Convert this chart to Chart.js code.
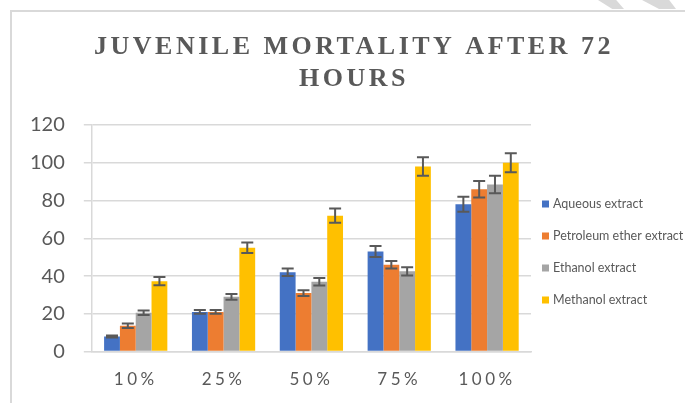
<!DOCTYPE html>
<html>
<head>
<meta charset="utf-8">
<script src="https://cdn.jsdelivr.net/npm/chart.js@4.4.1/dist/chart.umd.min.js"></script>
<style>
  html, body { margin: 0; padding: 0; background: #fff; overflow: hidden; }
  #wrap { position: relative; width: 685px; height: 403px; }
  #frame {
    position: absolute; left: 10px; top: 10px; width: 720px; height: 440px;
    border-left: 2px solid #d9d9d9; border-top: 2px solid #d9d9d9;
  }
  .stripe { position: absolute; top: 0; height: 9px; background: #d9d9d9; }
  #s1 { left: 598px; width: 26px; clip-path: polygon(0 0, 70% 0, 100% 100%, 55% 100%); }
  #s2 { left: 642px; width: 34px; clip-path: polygon(0 0, 80% 0, 100% 100%, 50% 100%); }
  canvas { position: absolute; left: 0; top: 0; }
</style>
</head>
<body>
<div id="wrap">
  <div id="frame"></div>
  <div class="stripe" id="s1"></div>
  <div class="stripe" id="s2"></div>
  <canvas id="chart" width="685" height="403"></canvas>
</div>
<script>
'use strict';

const titleLines = ['JUVENILE MORTALITY AFTER 72', 'HOURS'];
const categories = ['10%', '25%', '50%', '75%', '100%'];
const seriesNames = ['Aqueous extract', 'Petroleum ether extract', 'Ethanol extract', 'Methanol extract'];
const seriesColors = ['#4472c4', '#ed7d31', '#a5a5a5', '#ffc000'];

const aqueous = [8, 21, 42, 53, 78];
const petroleum = [13.7, 21, 31, 46, 86];
const ethanol = [20.6, 29, 37, 42.5, 88.5];
const methanol = [37.3, 55, 72, 98, 100];

const aqueousErr = [0.5, 1, 2, 2.9, 4];
const petroleumErr = [1.2, 1, 1.5, 2, 4.4];
const ethanolErr = [1.2, 1.5, 2, 2.2, 4.6];
const methanolErr = [2.2, 2.8, 3.8, 4.9, 5];

const yTicks = [0, 20, 40, 60, 80, 100, 120];

const seriesValues = [aqueous, petroleum, ethanol, methanol];
const seriesErrors = [aqueousErr, petroleumErr, ethanolErr, methanolErr];

const textColor = '#595959';
const gridColor = '#d9d9d9';

// Error bars on top of each bar, positioned from the y scale
const errorBars = {
  id: 'errorBars',
  afterDatasetsDraw(chart) {
    const { ctx } = chart;
    const y = chart.scales.y;
    ctx.save();
    ctx.strokeStyle = textColor;
    ctx.lineWidth = 2;
    chart.data.datasets.forEach((ds, i) => {
      chart.getDatasetMeta(i).data.forEach((bar, j) => {
        const v = ds.data[j];
        const e = seriesErrors[i][j];
        const top = y.getPixelForValue(v + e);
        const bot = y.getPixelForValue(v - e);
        const half = 6;
        ctx.beginPath();
        ctx.moveTo(bar.x, top);
        ctx.lineTo(bar.x, bot);
        ctx.moveTo(bar.x - half, top);
        ctx.lineTo(bar.x + half, top);
        ctx.moveTo(bar.x - half, bot);
        ctx.lineTo(bar.x + half, bot);
        ctx.stroke();
      });
    });
    ctx.restore();
    // x tick labels are drawn after this (ticks.z = 1) with spaced letters
    ctx.letterSpacing = '3.5px';
  },
  afterDraw(chart) {
    const { ctx, chartArea } = chart;
    ctx.letterSpacing = '0px';
    ctx.save();

    // title
    ctx.fillStyle = textColor;
    ctx.textAlign = 'center';
    ctx.textBaseline = 'alphabetic';
    ctx.font = 'bold 26px "Liberation Serif", serif';
    ctx.letterSpacing = '3.5px';
    ctx.fillText(titleLines[0], 354, 54);
    ctx.fillText(titleLines[1], 354, 86);
    ctx.letterSpacing = '0px';

    // legend on the right
    ctx.font = '12.5px Lato, sans-serif';
    ctx.textAlign = 'left';
    ctx.textBaseline = 'middle';
    const lx = chartArea.right + 11;
    const ly = chartArea.top + 79;
    seriesNames.forEach((name, i) => {
      const cy = ly + i * 32;
      ctx.fillStyle = seriesColors[i];
      ctx.fillRect(lx, cy - 3.5, 7, 7);
      ctx.fillStyle = textColor;
      ctx.fillText(name, lx + 11, cy);
    });
    ctx.restore();
  },
};

new Chart(document.getElementById('chart'), {
  type: 'bar',
  data: {
    labels: categories,
    datasets: seriesNames.map((name, i) => ({
      label: name,
      data: seriesValues[i],
      backgroundColor: seriesColors[i],
      borderWidth: 0,
      categoryPercentage: 0.72,
      barPercentage: 1,
    })),
  },
  options: {
    responsive: false,
    animation: false,
    layout: { padding: { top: 125, left: 11, right: 154, bottom: -5 } },
    plugins: {
      legend: { display: false },
      title: { display: false },
      tooltip: { enabled: false },
    },
    scales: {
      x: {
        grid: { display: false, drawTicks: false },
        border: { display: true, color: gridColor, width: 1.5 },
        ticks: {
          z: 1,
          color: textColor,
          padding: 18,
          font: { family: 'Lato', size: 17 },
        },
      },
      y: {
        min: 0,
        max: 120,
        afterBuildTicks: (scale) => {
          scale.ticks = yTicks.map((v) => ({ value: v }));
        },
        grid: { color: gridColor, lineWidth: 1.5, tickLength: 8 },
        border: { display: true, color: gridColor, width: 1.5 },
        ticks: {
          color: textColor,
          padding: 19,
          font: { family: 'Lato', size: 20 },
        },
      },
    },
  },
  plugins: [errorBars],
});
</script>
</body>
</html>
